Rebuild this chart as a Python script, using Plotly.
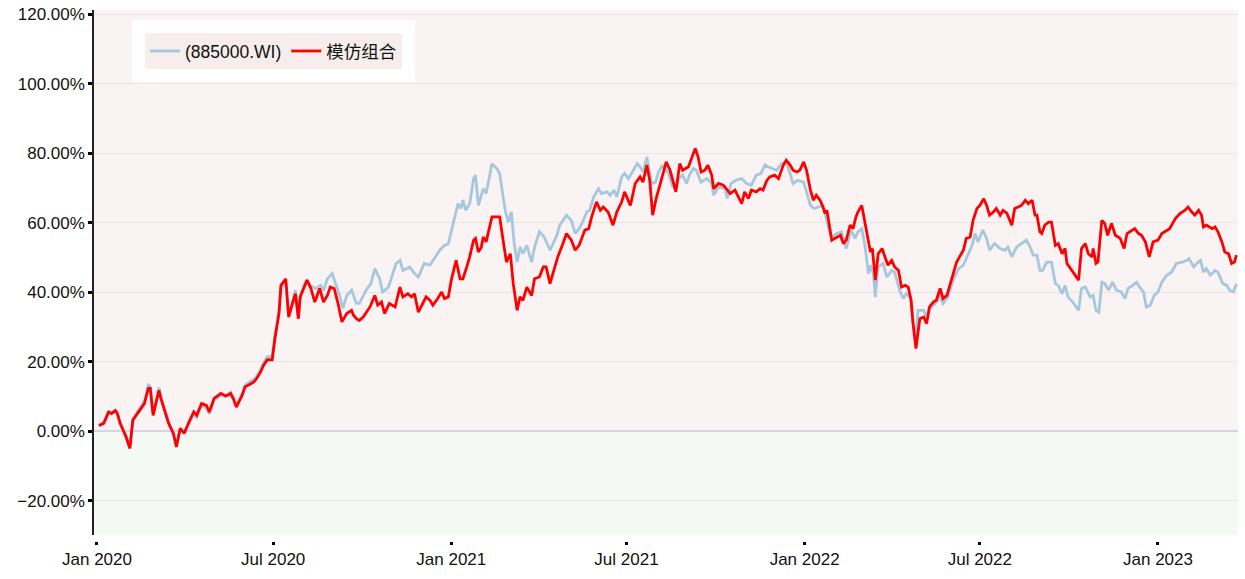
import plotly.graph_objects as go

red_dates = ["2020-01-03","2020-01-08","2020-01-13","2020-01-16","2020-01-20","2020-01-22","2020-01-25","2020-01-31","2020-02-04","2020-02-07","2020-02-13","2020-02-19","2020-02-23","2020-02-25","2020-02-28","2020-03-05","2020-03-07","2020-03-10","2020-03-15","2020-03-20","2020-03-23","2020-03-27","2020-03-31","2020-04-05","2020-04-10","2020-04-13","2020-04-18","2020-04-23","2020-04-26","2020-05-01","2020-05-08","2020-05-13","2020-05-18","2020-05-21","2020-05-24","2020-05-30","2020-06-02","2020-06-08","2020-06-11","2020-06-14","2020-06-18","2020-06-21","2020-06-25","2020-06-30","2020-07-03","2020-07-07","2020-07-09","2020-07-14","2020-07-17","2020-07-21","2020-07-24","2020-07-27","2020-07-29","2020-08-05","2020-08-09","2020-08-13","2020-08-18","2020-08-22","2020-08-26","2020-08-29","2020-09-02","2020-09-06","2020-09-10","2020-09-15","2020-09-20","2020-09-22","2020-09-25","2020-09-28","2020-10-02","2020-10-09","2020-10-14","2020-10-17","2020-10-21","2020-10-24","2020-10-29","2020-11-04","2020-11-09","2020-11-12","2020-11-17","2020-11-21","2020-11-24","2020-11-28","2020-12-03","2020-12-06","2020-12-10","2020-12-13","2020-12-18","2020-12-22","2020-12-25","2020-12-29","2021-01-01","2021-01-06","2021-01-10","2021-01-13","2021-01-17","2021-01-20","2021-01-24","2021-01-26","2021-01-29","2021-02-01","2021-02-03","2021-02-06","2021-02-12","2021-02-20","2021-02-23","2021-02-27","2021-03-03","2021-03-06","2021-03-10","2021-03-13","2021-03-16","2021-03-20","2021-03-25","2021-03-28","2021-04-02","2021-04-06","2021-04-09","2021-04-13","2021-04-18","2021-04-21","2021-04-25","2021-04-30","2021-05-05","2021-05-09","2021-05-13","2021-05-16","2021-05-19","2021-05-23","2021-05-26","2021-05-31","2021-06-04","2021-06-07","2021-06-12","2021-06-17","2021-06-21","2021-06-26","2021-06-29","2021-07-05","2021-07-10","2021-07-15","2021-07-18","2021-07-22","2021-07-25","2021-07-28","2021-08-01","2021-08-05","2021-08-08","2021-08-11","2021-08-15","2021-08-18","2021-08-21","2021-08-25","2021-08-28","2021-09-03","2021-09-06","2021-09-10","2021-09-13","2021-09-16","2021-09-20","2021-09-23","2021-09-27","2021-09-29","2021-10-04","2021-10-09","2021-10-12","2021-10-16","2021-10-21","2021-10-24","2021-10-28","2021-10-31","2021-11-04","2021-11-07","2021-11-12","2021-11-16","2021-11-19","2021-11-23","2021-11-26","2021-12-01","2021-12-05","2021-12-10","2021-12-13","2021-12-17","2021-12-20","2021-12-24","2021-12-27","2021-12-31","2022-01-03","2022-01-07","2022-01-10","2022-01-13","2022-01-17","2022-01-20","2022-01-22","2022-01-24","2022-01-27","2022-01-29","2022-02-01","2022-02-07","2022-02-10","2022-02-13","2022-02-17","2022-02-20","2022-02-23","2022-02-25","2022-03-01","2022-03-04","2022-03-08","2022-03-10","2022-03-12","2022-03-15","2022-03-18","2022-03-22","2022-03-25","2022-03-28","2022-04-01","2022-04-04","2022-04-08","2022-04-11","2022-04-15","2022-04-18","2022-04-21","2022-04-23","2022-04-26","2022-04-28","2022-04-30","2022-05-04","2022-05-07","2022-05-10","2022-05-14","2022-05-17","2022-05-21","2022-05-24","2022-05-28","2022-05-31","2022-06-04","2022-06-07","2022-06-10","2022-06-14","2022-06-17","2022-06-21","2022-06-24","2022-06-28","2022-07-01","2022-07-05","2022-07-08","2022-07-11","2022-07-15","2022-07-18","2022-07-22","2022-07-25","2022-07-29","2022-08-03","2022-08-06","2022-08-10","2022-08-13","2022-08-17","2022-08-20","2022-08-24","2022-08-27","2022-08-29","2022-09-01","2022-09-03","2022-09-06","2022-09-10","2022-09-13","2022-09-17","2022-09-20","2022-09-24","2022-09-27","2022-09-29","2022-10-04","2022-10-11","2022-10-14","2022-10-18","2022-10-21","2022-10-25","2022-10-26","2022-10-29","2022-10-31","2022-11-04","2022-11-07","2022-11-10","2022-11-14","2022-11-18","2022-11-23","2022-11-27","2022-11-30","2022-12-05","2022-12-08","2022-12-12","2022-12-15","2022-12-19","2022-12-23","2022-12-27","2023-01-01","2023-01-05","2023-01-10","2023-01-13","2023-01-19","2023-01-24","2023-01-29","2023-02-01","2023-02-05","2023-02-08","2023-02-12","2023-02-15","2023-02-17","2023-02-20","2023-02-26","2023-03-01","2023-03-04","2023-03-08","2023-03-11","2023-03-15","2023-03-18","2023-03-21","2023-03-23"]
red_vals = [1.7,2.3,5.6,5.2,6.0,5.2,2.3,-1.6,-4.9,3.2,5.6,8.0,12.4,12.4,4.6,11.8,9.5,6.6,2.3,-0.6,-4.5,0.9,-0.6,2.7,5.6,4.6,8.0,7.5,5.6,9.5,10.9,10.2,10.9,9.3,7.0,10.4,12.8,13.7,14.2,15.2,17.1,19.0,20.6,20.6,27.1,33.9,42.0,43.9,32.9,36.8,39.6,32.4,38.7,43.5,41.1,37.2,41.1,37.2,39.1,41.5,41.1,36.8,31.5,33.9,34.8,33.4,32.4,31.9,32.9,35.8,39.1,36.3,37.2,33.9,36.8,35.8,41.5,38.7,39.6,38.7,39.6,34.3,36.8,38.7,37.7,36.3,38.2,40.1,38.2,38.7,43.5,49.2,43.9,43.9,47.3,50.2,55.0,55.5,51.6,53.0,55.9,54.5,61.7,61.7,55.9,48.7,51.1,42.5,34.8,38.7,37.7,41.5,39.1,43.9,44.4,47.3,47.3,42.5,47.3,50.2,53.0,56.9,55.0,52.1,53.5,55.5,57.9,58.3,61.7,66.0,63.6,64.5,63.1,59.3,63.1,66.0,68.9,65.0,71.3,73.2,71.7,76.6,72.2,62.2,67.4,71.3,74.2,77.5,75.1,72.2,68.9,77.0,75.1,76.1,78.5,81.4,78.9,74.6,75.1,76.6,73.7,69.8,71.3,70.8,69.8,68.4,69.4,67.9,65.5,68.9,67.0,69.4,68.9,69.8,69.4,72.2,73.2,73.7,72.7,76.6,78.0,76.6,75.1,74.6,75.1,77.5,75.1,69.4,66.5,67.9,66.5,64.5,62.7,63.6,58.8,55.0,55.5,56.4,54.0,55.0,59.3,58.3,61.7,63.1,65.0,60.2,54.0,51.6,52.6,43.5,51.1,52.6,50.2,47.8,49.2,47.3,46.3,41.5,42.0,41.5,37.7,31.0,23.8,28.1,32.4,32.9,31.0,35.8,37.2,37.7,41.1,38.2,39.1,42.0,45.8,48.7,50.2,52.1,55.5,55.9,60.7,64.1,65.0,66.9,65.0,62.2,63.1,64.1,62.2,63.6,62.7,59.3,64.1,64.5,65.0,66.5,65.5,66.5,62.2,62.2,57.4,56.9,59.3,60.2,60.2,53.5,54.0,51.1,52.6,48.3,46.3,43.5,52.6,54.0,51.1,50.2,52.6,48.3,48.7,60.7,59.8,56.4,59.8,56.4,55.5,52.6,56.9,57.9,58.3,56.9,56.4,54.5,50.2,54.5,55.0,56.9,57.9,58.3,61.2,62.7,63.6,64.5,63.1,62.2,63.6,62.2,58.8,59.3,58.3,58.8,57.4,54.5,51.6,51.1,48.3,48.7,50.7]

blue_dates = ["2020-01-03","2020-01-08","2020-01-13","2020-01-16","2020-01-20","2020-01-22","2020-01-25","2020-01-31","2020-02-04","2020-02-07","2020-02-13","2020-02-19","2020-02-23","2020-02-25","2020-02-28","2020-03-05","2020-03-07","2020-03-10","2020-03-15","2020-03-20","2020-03-23","2020-03-27","2020-03-31","2020-04-05","2020-04-10","2020-04-13","2020-04-18","2020-04-23","2020-04-26","2020-05-01","2020-05-08","2020-05-13","2020-05-18","2020-05-21","2020-05-24","2020-05-30","2020-06-02","2020-06-08","2020-06-11","2020-06-14","2020-06-18","2020-06-21","2020-06-25","2020-06-30","2020-07-03","2020-07-07","2020-07-09","2020-07-14","2020-07-17","2020-07-21","2020-07-24","2020-07-27","2020-07-29","2020-08-04","2020-08-09","2020-08-14","2020-08-19","2020-08-22","2020-08-26","2020-08-31","2020-09-03","2020-09-08","2020-09-11","2020-09-15","2020-09-20","2020-09-25","2020-09-28","2020-10-05","2020-10-10","2020-10-14","2020-10-19","2020-10-22","2020-10-28","2020-10-31","2020-11-05","2020-11-09","2020-11-12","2020-11-19","2020-11-24","2020-11-28","2020-12-04","2020-12-10","2020-12-16","2020-12-20","2020-12-25","2020-12-29","2021-01-03","2021-01-08","2021-01-11","2021-01-13","2021-01-16","2021-01-20","2021-01-24","2021-01-26","2021-01-29","2021-02-03","2021-02-06","2021-02-12","2021-02-17","2021-02-20","2021-02-23","2021-02-26","2021-03-01","2021-03-04","2021-03-07","2021-03-10","2021-03-13","2021-03-16","2021-03-20","2021-03-25","2021-03-28","2021-04-02","2021-04-07","2021-04-13","2021-04-20","2021-04-23","2021-04-30","2021-05-05","2021-05-09","2021-05-13","2021-05-16","2021-05-21","2021-05-24","2021-05-28","2021-06-02","2021-06-05","2021-06-11","2021-06-14","2021-06-18","2021-06-21","2021-06-26","2021-06-29","2021-07-03","2021-07-08","2021-07-12","2021-07-15","2021-07-18","2021-07-22","2021-07-25","2021-07-27","2021-07-31","2021-08-03","2021-08-07","2021-08-10","2021-08-13","2021-08-17","2021-08-20","2021-08-24","2021-08-28","2021-09-01","2021-09-04","2021-09-08","2021-09-11","2021-09-16","2021-09-22","2021-09-27","2021-09-29","2021-10-04","2021-10-11","2021-10-13","2021-10-17","2021-10-22","2021-10-28","2021-11-02","2021-11-07","2021-11-12","2021-11-17","2021-11-21","2021-11-24","2021-11-28","2021-12-03","2021-12-08","2021-12-13","2021-12-17","2021-12-20","2021-12-25","2021-12-31","2022-01-04","2022-01-07","2022-01-11","2022-01-15","2022-01-20","2022-01-23","2022-01-27","2022-01-29","2022-02-03","2022-02-08","2022-02-13","2022-02-18","2022-02-22","2022-02-25","2022-03-01","2022-03-04","2022-03-08","2022-03-10","2022-03-13","2022-03-15","2022-03-18","2022-03-23","2022-03-27","2022-04-01","2022-04-04","2022-04-09","2022-04-13","2022-04-16","2022-04-20","2022-04-23","2022-04-26","2022-04-28","2022-05-04","2022-05-07","2022-05-10","2022-05-16","2022-05-21","2022-05-24","2022-05-29","2022-06-04","2022-06-09","2022-06-14","2022-06-19","2022-06-23","2022-06-26","2022-06-29","2022-07-04","2022-07-08","2022-07-11","2022-07-16","2022-07-22","2022-07-27","2022-07-30","2022-08-03","2022-08-08","2022-08-13","2022-08-18","2022-08-22","2022-08-25","2022-08-29","2022-09-01","2022-09-04","2022-09-08","2022-09-13","2022-09-17","2022-09-20","2022-09-24","2022-09-27","2022-09-30","2022-10-05","2022-10-11","2022-10-14","2022-10-18","2022-10-23","2022-10-26","2022-10-29","2022-11-01","2022-11-04","2022-11-07","2022-11-11","2022-11-15","2022-11-19","2022-11-24","2022-11-28","2022-12-01","2022-12-06","2022-12-10","2022-12-13","2022-12-17","2022-12-20","2022-12-24","2022-12-28","2023-01-01","2023-01-05","2023-01-10","2023-01-15","2023-01-20","2023-01-26","2023-01-31","2023-02-02","2023-02-07","2023-02-10","2023-02-14","2023-02-17","2023-02-20","2023-02-24","2023-03-01","2023-03-04","2023-03-09","2023-03-13","2023-03-16","2023-03-20","2023-03-23"]
blue_vals = [1.5,2.5,5.4,5.0,5.8,5.0,2.0,-1.0,-4.5,3.5,6.2,8.8,13.3,13.0,5.2,12.6,10.0,7.0,2.8,-1.2,-4.0,0.5,-0.2,2.0,5.0,4.0,7.2,6.8,5.0,9.0,10.5,10.0,11.2,9.8,7.5,10.8,13.3,14.5,15.0,15.8,17.8,19.8,21.5,21.5,28.0,34.5,41.0,43.0,33.5,37.5,40.6,33.0,39.0,43.5,41.8,41.1,42.0,40.5,43.9,45.4,43.0,38.7,35.4,39.1,40.6,36.8,36.8,40.6,42.5,46.8,43.9,40.1,41.5,43.9,48.3,49.2,46.3,47.3,45.4,44.4,48.3,47.8,50.2,52.1,53.5,54.0,59.8,65.5,64.1,66.5,63.6,65.5,72.7,73.7,65.0,69.8,68.4,77.0,75.6,74.2,68.4,63.1,60.2,63.1,54.0,48.7,53.0,51.1,53.5,48.7,53.0,57.4,55.9,52.1,56.4,59.3,62.2,60.7,56.9,58.3,59.8,63.1,63.6,67.4,69.8,68.4,68.9,67.9,69.4,67.4,73.2,74.2,72.7,75.1,77.0,76.1,74.6,78.9,74.2,71.3,71.7,74.6,76.6,75.1,74.6,70.8,69.8,72.7,73.7,71.3,73.7,75.6,75.1,71.7,72.7,71.3,67.9,70.3,69.8,67.0,71.3,72.2,72.7,71.3,70.8,73.7,74.2,76.6,76.1,75.6,75.1,77.0,77.5,74.2,71.3,72.2,71.7,67.9,65.0,64.1,64.5,65.0,61.7,56.9,55.9,56.9,57.4,52.6,57.9,55.5,57.4,58.3,54.0,45.4,47.8,45.4,38.7,47.3,48.3,44.4,46.3,45.8,40.6,38.2,39.6,38.7,31.0,27.1,34.8,34.8,32.9,35.3,36.8,38.7,36.8,38.7,43.9,46.8,47.8,50.7,53.5,56.9,54.5,57.9,55.5,52.1,54.0,52.6,52.1,53.0,50.2,53.0,54.0,55.0,53.0,50.7,50.7,46.3,46.3,48.7,48.7,42.5,42.0,39.6,42.0,38.7,37.2,34.8,41.1,41.5,38.7,39.1,34.8,34.3,42.9,42.5,40.6,42.9,40.6,40.1,38.2,41.1,42.0,42.9,41.5,40.1,35.8,36.3,39.1,40.1,42.9,44.9,45.8,48.3,48.7,49.2,49.7,47.3,48.3,49.2,45.8,46.8,44.9,46.3,45.8,42.5,42.0,40.6,40.1,42.5]

series_names = ["(885000.WI)", "模仿组合"]
series_colors = ["#a7c8dc", "#ff0000"]
y_ticks = [-20, 0, 20, 40, 60, 80, 100, 120]
y_ticktext = ["\u221220.00%", "0.00%", "20.00%", "40.00%", "60.00%", "80.00%", "100.00%", "120.00%"]
y_range = [-29.8, 121.2]
x_range = ["2019-12-28 22:00", "2023-03-24 16:00"]

FONT = "Liberation Sans, Arial, Noto Sans CJK SC, sans-serif"

fig = go.Figure()
fig.add_trace(go.Scatter(x=blue_dates, y=blue_vals, mode="lines", name=series_names[0],
                         line=dict(color=series_colors[0], width=2.8)))
fig.add_trace(go.Scatter(x=red_dates, y=red_vals, mode="lines", name=series_names[1],
                         line=dict(color=series_colors[1], width=2.8)))

# background bands: positive (pink) and negative (green)
fig.add_shape(type="rect", xref="paper", yref="y", x0=0, x1=1, y0=0, y1=y_range[1],
              fillcolor="#faf3f3", line_width=0, layer="below")
fig.add_shape(type="rect", xref="paper", yref="y", x0=0, x1=1, y0=y_range[0], y1=0,
              fillcolor="#f5f9f3", line_width=0, layer="below")

fig.update_layout(
    width=1245, height=579,
    margin=dict(l=94, r=7, t=10, b=38, autoexpand=False),
    paper_bgcolor="white", plot_bgcolor="rgba(0,0,0,0)",
    font=dict(family=FONT, size=17, color="#111111"),
    showlegend=True,
    legend=dict(orientation="h", x=0.0332, y=0.981, xanchor="left", yanchor="top",
                bgcolor="#f8eded", bordercolor="white", borderwidth=13,
                font=dict(family=FONT, size=17.5, color="#111111"),
                itemwidth=30, tracegroupgap=0),
    xaxis=dict(type="date", range=x_range, anchor="free", position=0, automargin=False,
               dtick="M6", tick0="2020-01-01", tickformat="%b %Y",
               showgrid=False, zeroline=False, showline=False,
               ticks="outside", ticklen=3, tickwidth=3, tickcolor="#000000",
               ticklabeloverflow="allow",
               tickfont=dict(family=FONT, size=17, color="#111111")),
    yaxis=dict(range=y_range, domain=[0.0113, 1], tickvals=y_ticks, ticktext=y_ticktext,
               automargin=False, ticklabeloverflow="allow",
               showgrid=True, gridcolor="#eee3e3", gridwidth=1,
               zeroline=True, zerolinecolor="#d9d3ea", zerolinewidth=2,
               showline=True, linecolor="#222222", linewidth=1.5,
               ticks="outside", ticklen=4, tickwidth=2.5, tickcolor="#000000",
               tickfont=dict(family=FONT, size=17, color="#111111")),
)

# remove the default 8px page margin so the figure sits at the window's top-left corner
fig.write_html("out.html", config={"displayModeBar": False},
               post_script="document.body.style.margin='0';")
